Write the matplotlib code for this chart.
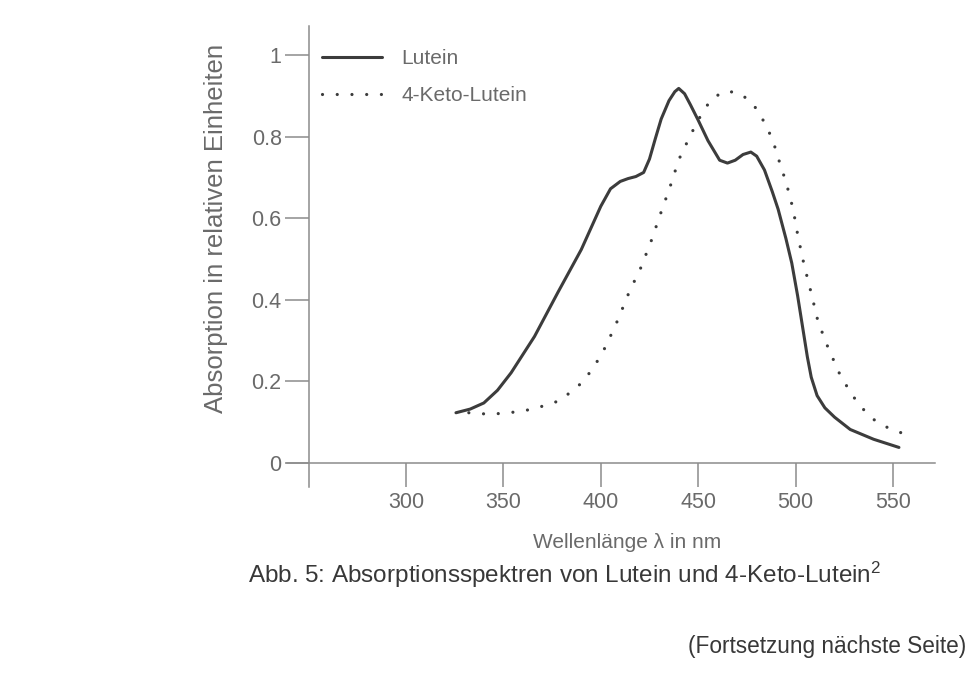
import numpy as np
import matplotlib
matplotlib.use('Agg')
import matplotlib.pyplot as plt

plt.rcParams['font.family'] = ['Liberation Sans', 'DejaVu Sans']
plt.rcParams['mathtext.default'] = 'regular'

# Lutein (solid line)
lutein_nm = [325.7, 333, 340, 347, 354, 366, 378, 390, 400, 405, 410, 414, 418, 422,
             425, 428, 431, 435, 438, 440, 443, 446, 450, 455, 461, 465, 469, 473,
             477, 480, 484, 488, 491, 495, 498, 501, 503, 506, 508, 511, 515, 520,
             528, 540, 553]
lutein_abs = [0.123, 0.132, 0.147, 0.178, 0.221, 0.31, 0.418, 0.523, 0.629, 0.672,
              0.690, 0.697, 0.702, 0.712, 0.745, 0.795, 0.843, 0.888, 0.910, 0.918,
              0.905, 0.878, 0.840, 0.790, 0.742, 0.735, 0.742, 0.756, 0.762, 0.752,
              0.718, 0.665, 0.622, 0.55, 0.49, 0.41, 0.35, 0.26, 0.21, 0.165, 0.135,
              0.112, 0.082, 0.058, 0.038]

# 4-Keto-Lutein (dotted line)
keto_nm = [332.3, 341, 348, 356.5, 364, 370.8, 378.5, 384.7, 390.9, 395, 399, 402.7,
           408.8, 414.5, 420.6, 425.8, 430.9, 435.5, 440.1, 446.3, 453, 458.1, 464.8,
           472, 478.1, 482.2, 485.5, 488.4, 492.5, 495.1, 498.7, 501.2, 504.3, 507.9,
           511.5, 516.6, 522.3, 526, 530, 535, 540.2, 547.4, 554.1]
keto_abs = [0.123, 0.12, 0.121, 0.125, 0.131, 0.14, 0.152, 0.174, 0.199, 0.226, 0.255,
            0.287, 0.351, 0.418, 0.479, 0.543, 0.614, 0.676, 0.744, 0.806, 0.867, 0.897,
            0.912, 0.904, 0.88, 0.85, 0.82, 0.789, 0.725, 0.688, 0.622, 0.555, 0.486,
            0.418, 0.346, 0.283, 0.221, 0.19, 0.16, 0.13, 0.106, 0.086, 0.074]

x_ticks = [300, 350, 400, 450, 500, 550]
y_ticks = [0, 0.2, 0.4, 0.6, 0.8, 1]
y_ticklabels = ['0', '0.2', '0.4', '0.6', '0.8', '1']

line_col = '#3c3c3c'
axis_col = '#8c8c8c'
text_col = '#6a6a6a'

fig = plt.figure(figsize=(9.76, 6.83), dpi=100)
fig.patch.set_facecolor('white')
ax = fig.add_axes([287/976, 1 - 487/683, 648/976, 461/683])

ax.plot(lutein_nm, lutein_abs, '-', color=line_col, lw=2.2, label='Lutein',
        solid_capstyle='round', solid_joinstyle='round')
ax.plot(keto_nm, keto_abs, color=line_col, lw=2.3, dashes=(0.01, 4.6),
        dash_capstyle='round', label='4-Keto-Lutein')

ax.set_xlim(239, 571.5)
ax.set_ylim(-0.059, 1.071)

for s in ['top', 'right']:
    ax.spines[s].set_visible(False)
ax.spines['left'].set_position(('data', 250.5))
ax.spines['bottom'].set_position(('data', 0))
for s in ['left', 'bottom']:
    ax.spines[s].set_color(axis_col)
    ax.spines[s].set_linewidth(1.1)

ax.set_xticks(x_ticks)
ax.set_yticks(y_ticks)
ax.set_yticklabels(y_ticklabels)
ax.tick_params(axis='x', direction='out', length=17, width=1.1, color=axis_col,
               labelsize=15.5, labelcolor=text_col, pad=4)
ax.tick_params(axis='y', direction='out', length=17, width=1.1, color=axis_col,
               labelsize=15.5, labelcolor=text_col, pad=3)

leg = ax.legend(loc='upper left', bbox_to_anchor=(322/976, 1 - 49/683),
                bbox_transform=fig.transFigure, frameon=False, fontsize=15,
                handlelength=2.9, handletextpad=0.9, labelspacing=0.88,
                borderpad=0, borderaxespad=0)
for t in leg.get_texts():
    t.set_color(text_col)

fig.text(216/976, 1 - 228/683, 'Absorption in relativen Einheiten', rotation=90,
         ha='center', va='center', fontsize=18.5, color=text_col)
fig.text(627/976, 1 - 542/683, 'Wellenlänge λ in nm', ha='center', va='center',
         fontsize=15, color=text_col)
fig.text(248/976, 1 - 575/683, 'Abb. 5: Absorptionsspektren von Lutein und 4-Keto-Lutein$^2$',
         ha='left', va='center', fontsize=17.5, color='#383838')
fig.text(966/976, 1 - 647/683, '(Fortsetzung nächste Seite)', ha='right', va='center',
         fontsize=16.3, color='#383838')

fig.savefig('out.png', dpi=100)
